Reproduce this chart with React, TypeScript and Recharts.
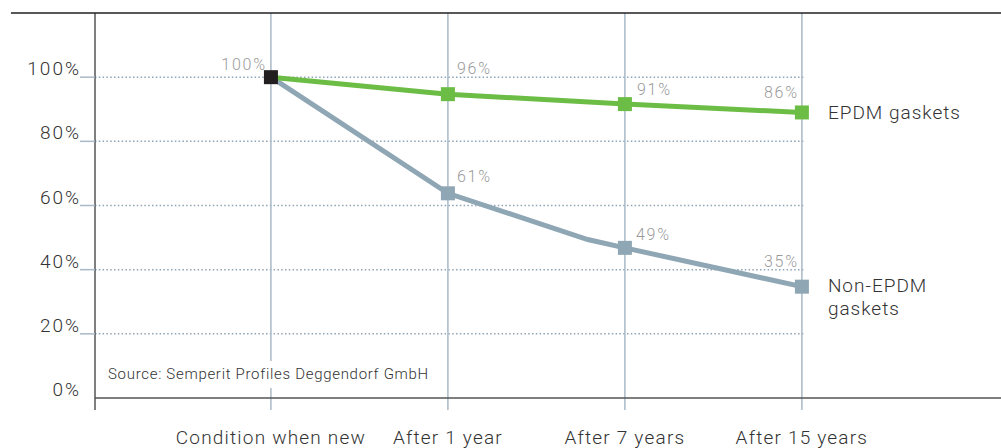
import * as React from 'react';
import { LineChart, Line, XAxis, YAxis, ReferenceLine, LabelList } from 'recharts';

const categories = ['Condition when new', 'After 1 year', 'After 7 years', 'After 15 years'];
const categoryIndex = [0, 1, 2, 3];
const yTicks = [0, 20, 40, 60, 80, 100];
const gridValues = [20, 40, 60, 80, 100];

// where the points sit on the drawing (x = category index)
const epdmX = [0, 1, 2, 3];
const epdmValues = [100, 94.7, 91.6, 89.0];
const epdmLabels = ['100%', '96%', '91%', '86%'];

const nonEpdmX = [0, 1, 1.79, 2, 3];
const nonEpdmValues = [100, 63.8, 49.4, 46.8, 34.7];
const nonEpdmLabels = ['', '61%', '', '49%', '35%'];

const seriesNames = { epdm: ['EPDM gaskets'], nonEpdm: ['Non-EPDM', 'gaskets'] };

// label placement relative to the point
const epdmLabelPos = [
  { dx: -4, dy: -7, anchor: 'end' },
  { dx: 9, dy: -20, anchor: 'start' },
  { dx: 12, dy: -9, anchor: 'start' },
  { dx: -3, dy: -14, anchor: 'end' },
];
const nonEpdmLabelPos = [
  null,
  { dx: 9, dy: -11, anchor: 'start' },
  null,
  { dx: 11, dy: -8, anchor: 'start' },
  { dx: -3, dy: -20, anchor: 'end' },
];

const FONT = 'Roboto, "Noto Sans", sans-serif';
const GREEN = '#6cbd45';
const GREY = '#8fa6b4';
const DARK = '#231f20';
const GRID = '#a9b9c7';
const DOTS = '#8ea4b4';
const TEXT = '#333';
const LABEL = '#9a9a9a';

const X_MIN = -0.994;
const X_MAX = 4.125;

const epdmData = epdmX.map((x, i) => ({ x, v: epdmValues[i], label: epdmLabels[i] }));
const nonEpdmData = nonEpdmX.map((x, i) => ({ x, v: nonEpdmValues[i], label: nonEpdmLabels[i] }));

function makeDot(color: string) {
  return (props: any) => {
    const { cx, cy, index, payload } = props;
    if (!payload.label) return <g key={`d${index}`} />;
    const fill = index === 0 ? DARK : color;
    return <rect key={`d${index}`} x={cx - 7} y={cy - 7} width={14} height={14} fill={fill} />;
  };
}

function makeLabel(pos: any[], names: string[], count: number) {
  return (props: any) => {
    const { x, y, index, value } = props;
    const p = pos[index];
    const out: React.ReactNode[] = [];
    if (p && value) {
      out.push(
        <text key="v" x={x + p.dx} y={y + p.dy} textAnchor={p.anchor} fontSize={16} fill={LABEL}
          fontFamily={FONT} fontWeight={300} letterSpacing={1.8}>
          {value}
        </text>
      );
    }
    if (index === count - 1) {
      names.forEach((n, k) =>
        out.push(
          <text key={`n${k}`} x={x + 26} y={y + (names.length > 1 ? 5 : 7) + k * 23} fontSize={19} fill={TEXT}
            fontFamily={FONT} fontWeight={300} letterSpacing={1}>
            {n}
          </text>
        )
      );
    }
    return <g key={`l${index}`}>{out}</g>;
  };
}

const XTick = (props: any) => {
  const { x, y, payload } = props;
  return (
    <text x={x} y={y + 46} textAnchor="middle" fontSize={19} fill={TEXT} fontFamily={FONT} fontWeight={300}
      letterSpacing={1.2}>
      {categories[payload.value]}
    </text>
  );
};

const YTick = (props: any) => {
  const { x, y, payload } = props;
  return (
    <g>
      {payload.value > 0 && <line x1={x - 15} x2={x} y1={y} y2={y} stroke={GRID} strokeWidth={1.5} />}
      <text x={x - 14} y={y - 2} textAnchor="end" fontSize={19} fill={TEXT} fontFamily={FONT} fontWeight={300}
        letterSpacing={2}>
        {`${payload.value}%`}
      </text>
    </g>
  );
};

export default function App() {
  return (
    <div style={{ position: 'relative', width: 1001, height: 448 }}>
      <style>{`body{margin:0}`}</style>
      <LineChart width={1001} height={448} margin={{ top: 13, right: 0, bottom: 0, left: 0 }}>
        <XAxis type="number" dataKey="x" domain={[X_MIN, X_MAX]} ticks={categoryIndex} allowDataOverflow
          height={50} axisLine={{ stroke: '#555', strokeWidth: 1.5 }} tickLine={false} tickSize={0} tickMargin={0}
          tick={<XTick />} interval={0} />
        <YAxis type="number" domain={[0, 120]} ticks={yTicks} width={95} axisLine={false} tickLine={false}
          tickSize={0} tickMargin={0} tick={<YTick />} interval={0} />
        {gridValues.map((g) => (
          <ReferenceLine key={`h${g}`} segment={[{ x: X_MIN, y: g }, { x: 3.02, y: g }]} stroke={DOTS}
            strokeWidth={1.5} strokeDasharray="1.5 2.3" ifOverflow="visible" />
        ))}
        {categoryIndex.map((c) => (
          <ReferenceLine key={`v${c}`} segment={[{ x: c, y: -3.75 }, { x: c, y: 120 }]} stroke={GRID}
            strokeWidth={1.5} ifOverflow="visible" />
        ))}
        <ReferenceLine segment={[{ x: X_MIN, y: -3.75 }, { x: X_MIN, y: 120 }]} stroke="#555" strokeWidth={1.5}
          ifOverflow="visible" />
        <ReferenceLine segment={[{ x: -1.469, y: 120 }, { x: X_MAX, y: 120 }]} stroke={DARK} strokeWidth={1.5}
          ifOverflow="visible" />
        <Line data={nonEpdmData} dataKey="v" stroke={GREY} strokeWidth={5} type="linear"
          dot={makeDot(GREY)} activeDot={false} isAnimationActive={false}>
          <LabelList dataKey="label" content={makeLabel(nonEpdmLabelPos, seriesNames.nonEpdm, nonEpdmData.length)} />
        </Line>
        <Line data={epdmData} dataKey="v" stroke={GREEN} strokeWidth={5} type="linear"
          dot={makeDot(GREEN)} activeDot={false} isAnimationActive={false}>
          <LabelList dataKey="label" content={makeLabel(epdmLabelPos, seriesNames.epdm, epdmData.length)} />
        </Line>
      </LineChart>
      <div style={{ position: 'absolute', left: 100, top: 361, width: 345, height: 27, background: '#fff',
        fontFamily: FONT, fontWeight: 300, fontSize: 15, color: TEXT, lineHeight: '27px', paddingLeft: 8,
        letterSpacing: 0.7, boxSizing: 'border-box' }}>
        Source: Semperit Profiles Deggendorf GmbH
      </div>
    </div>
  );
}
